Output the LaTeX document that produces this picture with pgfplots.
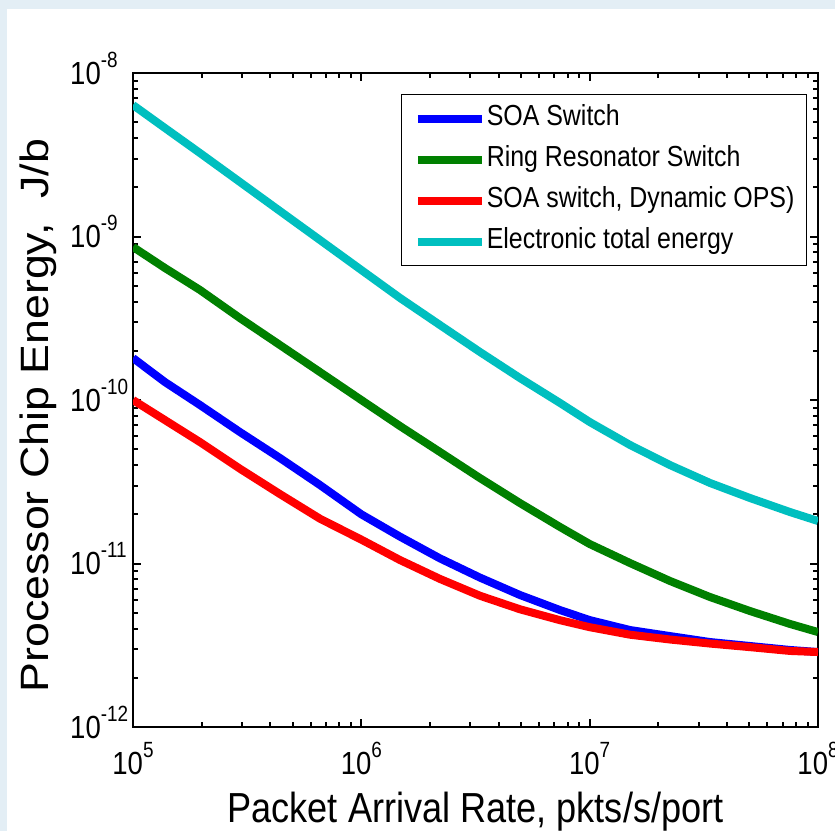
\documentclass[border=0pt]{standalone}
\usepackage{fontspec}
\setmainfont[FakeStretch=0.86]{Liberation Sans}
\usepackage{graphicx}
\usepackage{pgfplots}
\usepackage{pgfplotstable}
\pgfplotsset{compat=1.18}
\definecolor{bgblue}{HTML}{E3EEF5}
\definecolor{mycyan}{RGB}{0,191,191}
\definecolor{mygreen}{RGB}{0,128,0}
\definecolor{myblue}{RGB}{0,0,255}
\definecolor{myred}{RGB}{255,0,0}

\pgfplotstableread{
x        soa       ring      ops       elec
1e5      1.806e-10 8.63e-10  1.0e-10   6.37e-9
1.38e5   1.288e-10 6.42e-10  7.54e-11  4.61e-9
1.965e5  9.32e-11  4.71e-10  5.53e-11  3.24e-9
2.94e5   6.37e-11  3.17e-10  3.80e-11  2.155e-9
4.40e5   4.42e-11  2.17e-10  2.66e-11  1.432e-9
6.59e5   3.02e-11  1.483e-10 1.88e-11  9.52e-10
1e6      2.00e-11  1.0e-10   1.40e-11  6.24e-10
1.477e6  1.46e-11  6.93e-11  1.05e-11  4.21e-10
2.21e6   1.075e-11 4.81e-11  8.05e-12  2.875e-10
3.31e6   8.20e-12  3.33e-11  6.35e-12  1.966e-10
4.95e6   6.42e-12  2.344e-11 5.25e-12  1.363e-10
7.42e6   5.19e-12  1.672e-11 4.50e-12  9.59e-11
1e7      4.51e-12  1.316e-11 4.08e-12  7.34e-11
1.502e7  3.92e-12  1.007e-11 3.67e-12  5.31e-11
2.248e7  3.60e-12  7.82e-12  3.43e-12  4.00e-11
3.365e7  3.31e-12  6.24e-12  3.24e-12  3.11e-11
5.04e7   3.13e-12  5.12e-12  3.08e-12  2.515e-11
7.54e7   2.96e-12  4.27e-12  2.92e-12  2.065e-11
1e8      2.875e-12 3.81e-12  2.875e-12 1.82e-11
}\datatable

\begin{document}
\begin{tikzpicture}
\useasboundingbox (0pt,0pt) rectangle (835pt,831pt);
\fill[bgblue] (0pt,0pt) rectangle (835pt,831pt);
\fill[white] (7pt,0pt) rectangle (835pt,822pt);
\begin{axis}[
  at={(133pt,104pt)}, anchor=south west,
  scale only axis, width=685pt, height=654pt,
  xmode=log, ymode=log, log basis x=10, log basis y=10,
  xmin=1e5, xmax=1e8, ymin=1e-12, ymax=1e-8,
  xtick={1e5,1e6,1e7,1e8}, ytick={1e-12,1e-11,1e-10,1e-9,1e-8},
  minor xtick={2e5,3e5,4e5,5e5,6e5,7e5,8e5,9e5,2e6,3e6,4e6,5e6,6e6,7e6,8e6,9e6,2e7,3e7,4e7,5e7,6e7,7e7,8e7,9e7},
  minor ytick={2e-12,3e-12,4e-12,5e-12,6e-12,7e-12,8e-12,9e-12,2e-11,3e-11,4e-11,5e-11,6e-11,7e-11,8e-11,9e-11,2e-10,3e-10,4e-10,5e-10,6e-10,7e-10,8e-10,9e-10,2e-9,3e-9,4e-9,5e-9,6e-9,7e-9,8e-9,9e-9},
  xtick pos=both, ytick pos=both,
  tick align=inside, major tick length=8pt, minor tick length=5pt,
  tick style={draw=black, line width=2pt},
  axis line style={line width=1.8pt},
  xticklabel={\pgfmathtruncatemacro{\myexp}{round(\tick)}\fontsize{32}{32}\selectfont 10\smash{\raisebox{17pt}{\fontsize{22}{22}\selectfont\myexp}}},
  yticklabel={\pgfmathtruncatemacro{\myexp}{round(\tick)}\fontsize{32}{32}\selectfont 10\smash{\raisebox{17pt}{\fontsize{22}{22}\selectfont\myexp}}},
  xticklabel style={anchor=north, inner sep=0pt, yshift=-25pt},
  yticklabel style={anchor=west, inner sep=0pt, xshift=-63pt},
  xlabel={Packet Arrival Rate, pkts/s/port},
  ylabel={\scalebox{1}[0.76]{Processor Chip Energy,\ \ J/b}},
  xlabel style={at={(axis description cs:0.5,-0.1453)}, anchor=base, font=\fontsize{42}{42}\selectfont, inner sep=0pt},
  ylabel style={at={(axis description cs:-0.1241,0.476)}, anchor=base, font=\fontsize{52}{52}\selectfont, inner sep=0pt},
  legend style={at={(axis description cs:1,1)}, anchor=north east, xshift=-11pt, yshift=-21pt,
    draw=black, line width=1.2pt, font=\fontsize{29}{29}\selectfont,
    inner xsep=12pt, inner ysep=11pt, row sep=15pt,
    nodes={inner sep=0pt, text height=20pt, text depth=6pt}},
  legend cell align=left,
  legend image code/.code={\draw[#1, line width=8pt] (0pt,0pt) -- (64pt,0pt); \path (65pt,0pt);},
  every axis plot/.append style={line width=8pt, line join=round},
]
\addplot[myblue] table[x=x, y=soa] {\datatable};
\addlegendentry{SOA Switch}
\addplot[mygreen] table[x=x, y=ring] {\datatable};
\addlegendentry{Ring Resonator Switch}
\addplot[myred] table[x=x, y=ops] {\datatable};
\addlegendentry{SOA switch, Dynamic OPS)}
\addplot[mycyan] table[x=x, y=elec] {\datatable};
\addlegendentry{Electronic total energy}
\end{axis}
\end{tikzpicture}
\end{document}
